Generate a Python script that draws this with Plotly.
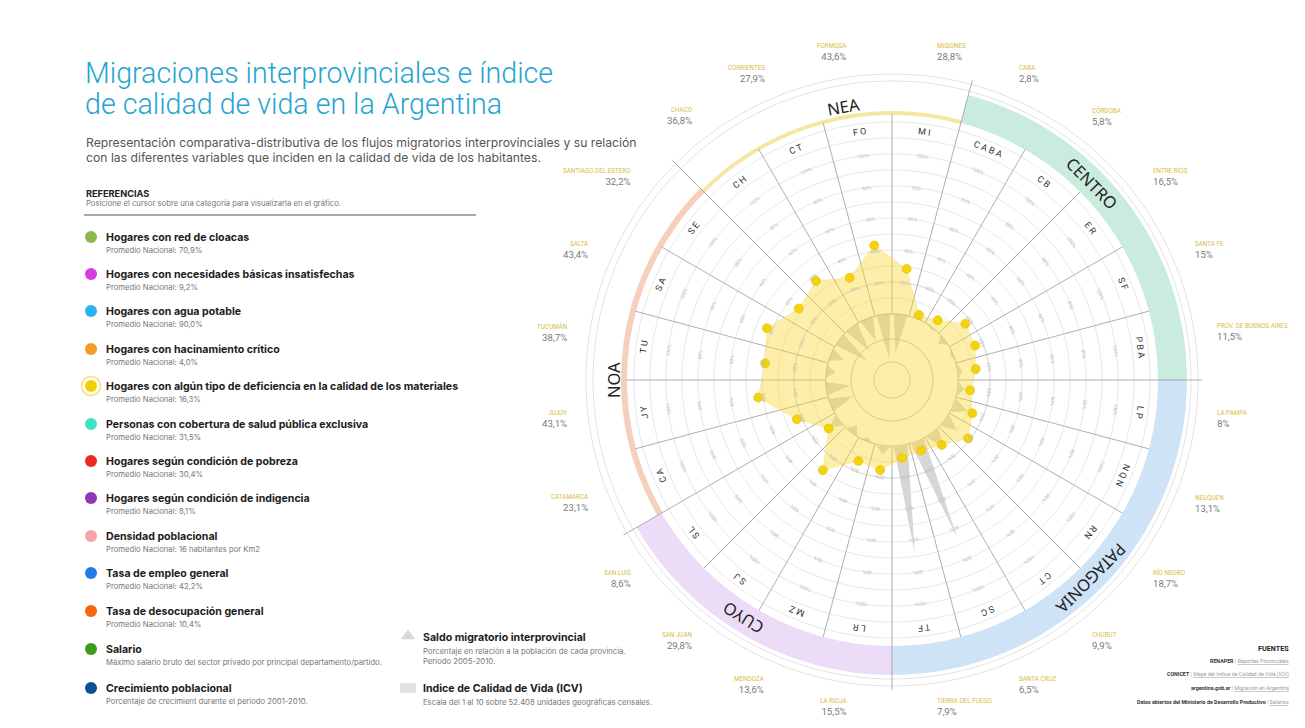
import math
import plotly.graph_objects as go

W, H = 1305, 728
OFF = 8  # page body margin: screen px = figure px + OFF

# ---------------- data ----------------
codigos = ["MI", "CABA", "CB", "ER", "SF", "PBA", "LP", "NQN", "RN", "CT", "SC", "TF",
           "LR", "MZ", "SJ", "SL", "CA", "JY", "TU", "SA", "SE", "CH", "CT", "FO"]
provincias = ["MISIONES", "CABA", "CÓRDOBA", "ENTRE RÍOS", "SANTA FE", "PROV. DE BUENOS AIRES",
              "LA PAMPA", "NEUQUÉN", "RÍO NEGRO", "CHUBUT", "SANTA CRUZ", "TIERRA DEL FUEGO",
              "LA RIOJA", "MENDOZA", "SAN JUAN", "SAN LUIS", "CATAMARCA", "JUJUY", "TUCUMÁN",
              "SALTA", "SANTIAGO DEL ESTERO", "CHACO", "CORRIENTES", "FORMOSA"]
# Hogares con algún tipo de deficiencia en la calidad de los materiales (%)
materiales = [28.8, 2.8, 5.8, 16.5, 15, 11.5, 8, 13.1, 18.7, 9.9, 6.5, 7.9,
              15.5, 13.6, 29.8, 8.6, 23.1, 43.1, 38.7, 43.4, 32.2, 36.8, 27.9, 43.6]
# Saldo migratorio interprovincial 2005-2010 (% de la población, estimado)
saldo = [-4.0, 0.3, -0.3, -0.8, -0.4, 0.4, 0.6, 1.5, 1.5, 2.0, 10.3, 10.8,
         0.8, -0.5, -1.0, 1.0, -2.5, -2.5, -1.0, -1.5, -3.5, -3.0, -2.5, -4.5]

regiones = ["NEA", "CENTRO", "PATAGONIA", "CUYO", "NOA"]
region_inicio = [315, 15, 90, 180, 240]
region_ext = [60, 75, 90, 60, 75]
escala_pct = [20, 40, 60, 80, 100]
anillos_pct = [10, 20, 30, 40, 50, 60, 70, 80, 90, 100, 110, 120]

ref_titulos = ["Hogares con red de cloacas", "Hogares con necesidades básicas insatisfechas",
               "Hogares con agua potable", "Hogares con hacinamiento crítico",
               "Hogares con algún tipo de deficiencia en la calidad de los materiales",
               "Personas con cobertura de salud pública exclusiva",
               "Hogares según condición de pobreza", "Hogares según condición de indigencia",
               "Densidad poblacional", "Tasa de empleo general", "Tasa de desocupación general",
               "Salario", "Crecimiento poblacional"]
ref_sub = ["Promedio Nacional: 70,9%", "Promedio Nacional: 9,2%", "Promedio Nacional: 90,0%",
           "Promedio Nacional: 4,0%", "Promedio Nacional: 16,3%", "Promedio Nacional: 31,5%",
           "Promedio Nacional: 30,4%", "Promedio Nacional: 8,1%",
           "Promedio Nacional: 16 habitantes por Km2", "Promedio Nacional: 42,2%",
           "Promedio Nacional: 10,4%",
           "Máximo salario bruto del sector privado por principal departamento/partido.",
           "Porcentaje de crecimient durante el periodo 2001-2010."]
ref_colores = ["#8db64c", "#d63be0", "#2bb0f0", "#f59b25", "#f2d000", "#3fe0c6", "#ea2a1e",
               "#8d37b3", "#f5a3aa", "#1f7de6", "#f5640f", "#3a9b1c", "#0e4e98"]
fuentes_org = ["RENAPER", "CONICET", "argentina.gob.ar", "Datos abiertos del Ministerio de Desarrollo Productivo"]
fuentes_link = ["Reportes Provinciales", "Mapa del Índice de Calidad de Vida (ICV)",
                "Migración en Argentina", "Salarios"]

# ---------------- geometry / style ----------------
CX, CY, R = 892, 380, 312   # screen px
R0, K = 66, 1.6      # px radius of 0% and px per percentage point
S0, KS = 67, 10      # saldo baseline px and px per point


def pv(px):
    return (px - R0) / K


def ps(px):
    return (px - S0) / KS


def xy(r, b):
    a = math.radians(b)
    return CX + r * math.sin(a), CY - r * math.cos(a)


def fmt(v):
    if float(v).is_integer():
        return f"{int(v)}%"
    return f"{v:.1f}%".replace(".", ",")


def ang(b):
    return b if b <= 180 else b - 360


centros = [7.5 + 15 * i for i in range(24)]
fx, fy = CX - OFF, CY - OFF
dom = dict(x=[(fx - R) / W, (fx + R) / W], y=[(H - fy - R) / H, (H - fy + R) / H])
FONT = "Inter"

fig = go.Figure()

# ---- saldo migratorio (polar, lower layer) ----
tr_r, tr_t = [], []
for c, s in zip(centros, saldo):
    tr_r += [0, 0, s, None]
    tr_t += [c - 6, c + 6, c, None]
fig.add_trace(go.Scatterpolar(r=tr_r, theta=tr_t, mode="lines", fill="toself",
                              fillcolor="#d6d6d6", line=dict(width=0, color="#d6d6d6"),
                              subplot="polar", hoverinfo="skip", showlegend=False))

# ---- bands ----
band_base = [265, 266, 266, 266, 265]
band_thick = [4, 29, 29, 29, 6]
band_color = ["#f5e6a6", "#c9ecdf", "#cfe3f6", "#ecdcf7", "#f6cfbd"]
fig.add_trace(go.Barpolar(r=[t / K for t in band_thick], base=[pv(b) for b in band_base],
                          theta=[s + e / 2 for s, e in zip(region_inicio, region_ext)],
                          width=region_ext, marker=dict(color=band_color, line=dict(width=0)),
                          subplot="polar2", hoverinfo="skip", showlegend=False))

ring_t = list(range(0, 361, 2))


def ring(rv, color, width):
    fig.add_trace(go.Scatterpolar(r=[rv] * len(ring_t), theta=ring_t, mode="lines",
                                  line=dict(color=color, width=width), subplot="polar2",
                                  hoverinfo="skip", showlegend=False))


for px in (299, 306):
    ring(pv(px), "#dcdcdc", 0.8)
for v in anillos_pct:
    ring(v, "#c8c8c8" if v == 20 else "#e2e2e2", 0.8)
ring(0, "#b5b5b5", 0.9)
ring(pv(41), "#b5b5b5", 0.9)
ring(pv(18), "#b5b5b5", 0.9)

rl_r, rl_t = [], []
for k in range(24):
    b = 15 * k
    outer = 310 if b in region_inicio else 266
    rl_r += [pv(66), pv(outer), None]
    rl_t += [b, b, None]
fig.add_trace(go.Scatterpolar(r=rl_r, theta=rl_t, mode="lines",
                              line=dict(color="#9a9a9a", width=0.8), subplot="polar2",
                              hoverinfo="skip", showlegend=False))

# ---- main series ----
fig.add_trace(go.Scatterpolar(r=materiales + [materiales[0]], theta=centros + [centros[0]],
                              mode="lines", fill="toself", fillcolor="rgba(250,214,50,0.42)",
                              line=dict(width=0.6, color="rgba(240,200,20,0.35)"),
                              subplot="polar2", hoverinfo="skip", showlegend=False))
fig.add_trace(go.Scatterpolar(r=materiales, theta=centros, mode="markers",
                              marker=dict(size=9, color="#f4d20c", line=dict(color="#e3bf00", width=0.6)),
                              subplot="polar2", showlegend=False))

# ---- left legend markers (screen-pixel cartesian) ----
ref_y = [237, 274, 311, 349, 386, 424, 461, 498, 536, 573, 611, 649, 688]
fig.add_trace(go.Scatter(x=[91], y=[ref_y[4]], mode="markers",
                         marker=dict(size=19, color="rgba(0,0,0,0)", line=dict(color="#f7e690", width=2)),
                         hoverinfo="skip", showlegend=False))
fig.add_trace(go.Scatter(x=[91] * len(ref_y), y=ref_y, mode="markers",
                         marker=dict(size=12, color=ref_colores, line=dict(width=0)),
                         hoverinfo="skip", showlegend=False))
fig.add_trace(go.Scatter(x=[408], y=[636], mode="markers",
                         marker=dict(size=13, symbol="triangle-up", color="#d8d8d8", line=dict(width=0)),
                         hoverinfo="skip", showlegend=False))

ann = []


def A(x, y, text, size, color="#222", xa="left", ya="middle", angle=0, align="left", weight=None, family=FONT):
    f = dict(size=size, color=color, family=family)
    if weight:
        f["weight"] = weight
    ann.append(dict(x=x, y=y, xref="x", yref="y", text=text, showarrow=False, xanchor=xa,
                    yanchor=ya, textangle=angle, align=align, font=f))


# title & intro
A(83, 73, "Migraciones interprovinciales e índice", 28.6, "#25a4d2", weight=300, family="Roboto")
A(83, 104, "de calidad de vida en la Argentina", 28.6, "#25a4d2", weight=300, family="Roboto")
A(84, 142, "Representación comparativa-distributiva de los flujos migratorios interprovinciales y su relación", 12.2, "#555")
A(84, 157, "con las diferentes variables que inciden en la calidad de vida de los habitantes.", 12.2, "#555")
A(84, 193, "<b>REFERENCIAS</b>", 9.2, "#222")
A(84, 203, "Posicione el cursor sobre una categoría para visualizarla en el gráfico.", 7.7, "#777")

for y, t, s in zip(ref_y, ref_titulos, ref_sub):
    A(104, y, f"<b>{t}</b>", 10.6, "#1c1c1c")
    A(104, y + 13, s, 7.7, "#777")

A(421, 637, "<b>Saldo migratorio interprovincial</b>", 10.6, "#1c1c1c")
A(421, 651, "Porcentaje en relación a la población de cada provincia.", 7.7, "#777")
A(421, 661, "Periodo 2005-2010.", 7.7, "#777")
A(421, 688, "<b>Indice de Calidad de Vida (ICV)</b>", 10.6, "#1c1c1c")
A(421, 702, "Escala del 1 al 10 sobre 52.408 unidades geográficas censales.", 7.7, "#777")

A(1291, 648, "<b>FUENTES</b>", 7.2, "#222", xa="right", family="Roboto")
for i, (o, l) in enumerate(zip(fuentes_org, fuentes_link)):
    A(1291, 661 + 13.6 * i, f"<b>{o}</b> <span style='color:#9a9a9a'>| <u>{l}</u></span>",
      5.3, "#333", xa="right", family="Roboto")

# outer province labels
for c, n, v in zip(centros, provincias, materiales):
    x, y = xy(326, c)
    cs = math.cos(math.radians(c))
    y = y - 5 + 9 * max(0.0, -cs)
    if math.sin(math.radians(c)) > 0:
        xa, al = "left", "left"
    else:
        xa, al = "right", "right"
    A(x, y, f"<span style='font-size:6.3px;color:#d9bc3e'>{n}</span><br>{fmt(v)}",
      9.6, "#7a7a7a", xa=xa, align=al, family="Roboto")

# sector codes
for c, cod in zip(centros, codigos):
    x, y = xy(250, c)
    A(x, y, " ".join(cod), 9, "#333", xa="center", angle=ang(c), family="Roboto")

# percentage scale inside each sector
for c in centros:
    for p in escala_pct:
        x, y = xy(R0 + K * p, c)
        A(x, y, f"{p}%", 5, "#bdbdbd", xa="center", angle=ang(c), family="Roboto")

# region labels
reg_pos = [(278, 350), (281, 45.5), (281, 135), (281, 212), (279, 270)]
for nm, (r, b) in zip(regiones, reg_pos):
    x, y = xy(r, b)
    A(x, y, nm, 16.5, "#222", xa="center", angle=ang(b), family="Noto Sans")

shapes = [
    dict(type="line", xref="x", yref="y", x0=84, x1=476, y0=215, y1=215, line=dict(color="#555", width=1)),
    dict(type="rect", xref="x", yref="y", x0=400, x1=416, y0=683, y1=693, fillcolor="#e2e2e2", line=dict(width=0)),
]

pol_common = dict(domain=dom, bgcolor="rgba(0,0,0,0)",
                  angularaxis=dict(rotation=90, direction="clockwise", visible=False,
                                   showgrid=False, showline=False, ticks=""))
fig.update_layout(
    width=W, height=H, margin=dict(l=0, r=0, t=0, b=0),
    paper_bgcolor="white", plot_bgcolor="rgba(0,0,0,0)",
    font=dict(family=FONT),
    xaxis=dict(range=[OFF, OFF + W], domain=[0, 1], visible=False, fixedrange=True),
    yaxis=dict(range=[OFF + H, OFF], domain=[0, 1], visible=False, fixedrange=True),
    polar=dict(**pol_common, radialaxis=dict(range=[ps(0), ps(R)], visible=False, showgrid=False)),
    polar2=dict(**pol_common, radialaxis=dict(range=[pv(0), pv(R)], visible=False, showgrid=False)),
    annotations=ann, shapes=shapes, showlegend=False,
)

fig.write_html("out.html")
